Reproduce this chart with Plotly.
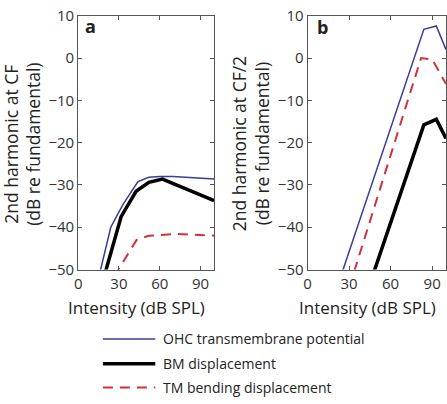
import plotly.graph_objects as go

# ---- data ----
intensity_ticks = [0, 30, 60, 90]
level_ticks = [-50, -40, -30, -20, -10, 0, 10]

series_names = ["OHC transmembrane potential", "BM displacement", "TM bending displacement"]

# panel a: 2nd harmonic at CF
a_ohc_x = [12, 24, 33, 44, 52, 60, 70, 80, 90, 100]
a_ohc_y = [-56, -40, -34.6, -29.2, -28.2, -28.0, -28.0, -28.2, -28.4, -28.6]
a_bm_x = [15, 31.6, 42.6, 52, 62, 72, 100]
a_bm_y = [-56.3, -37.5, -31.5, -29.4, -28.6, -29.9, -33.7]
a_tm_x = [20, 43, 52, 72, 100]
a_tm_y = [-55.1, -43.0, -42.0, -41.6, -42.0]

# panel b: 2nd harmonic at CF/2
b_ohc_x = [20, 84, 93, 100]
b_ohc_y = [-55.5, 6.8, 7.6, 2.0]
b_bm_x = [45, 84, 93, 100]
b_bm_y = [-53.4, -15.8, -14.5, -19.0]
b_tm_x = [30, 82, 90, 100]
b_tm_y = [-54.3, 0.0, -0.3, -6.1]

# ---- styles ----
FONT = "Open Sans"
colors = ["#3b3b9e", "#000000", "#d2303f"]
widths = [1.5, 3.5, 2]
dashes = ["solid", "solid", "10px,7px"]

W, H = 447, 404
ya_dom = [1 - 272 / H, 1 - 5 / H]
xa_dom = [75 / W, 212.5 / W]
xb_dom = [307 / W, 1.0]

fig = go.Figure()
panels = [
    ("x", "y", [(a_ohc_x, a_ohc_y), (a_bm_x, a_bm_y), (a_tm_x, a_tm_y)]),
    ("x2", "y2", [(b_ohc_x, b_ohc_y), (b_bm_x, b_bm_y), (b_tm_x, b_tm_y)]),
]
for xa, ya, data in panels:
    for i, (xs, ys) in enumerate(data):
        fig.add_trace(go.Scatter(
            x=xs, y=ys, mode="lines", name=series_names[i], showlegend=False,
            line=dict(color=colors[i], width=widths[i], dash=dashes[i]),
            xaxis=xa, yaxis=ya, cliponaxis=True,
        ))

axis_common = dict(
    showline=True, linecolor="#555", linewidth=1, mirror="ticks",
    ticks="inside", ticklen=4, tickcolor="#555", showgrid=False, zeroline=False,
    ticklabeloverflow="allow",
    tickfont=dict(family=FONT, size=15, color="#333"),
)
fig.update_layout(
    width=W, height=H, margin=dict(l=0, r=0, t=0, b=0),
    paper_bgcolor="white", plot_bgcolor="white", showlegend=False,
    xaxis=dict(domain=xa_dom, range=[0, 100], tickvals=intensity_ticks, anchor="y", **axis_common),
    yaxis=dict(domain=ya_dom, range=[-50, 10], tickvals=level_ticks, anchor="x", **axis_common),
    xaxis2=dict(domain=xb_dom, range=[0, 100], tickvals=intensity_ticks, anchor="y2", **axis_common),
    yaxis2=dict(domain=ya_dom, range=[-50, 10], tickvals=level_ticks, anchor="x2", **axis_common),
)

def ann(text, x, y, size=16, angle=0, bold=False, xanchor="center"):
    fig.add_annotation(
        text=f"<b>{text}</b>" if bold else text, x=x / W, y=1 - y / H,
        xref="paper", yref="paper", showarrow=False, textangle=angle,
        font=dict(family=FONT, size=size, color="#222"), xanchor=xanchor, yanchor="middle",
    )

# axis titles
ann("Intensity (dB SPL)", 134, 312, size=17)
ann("Intensity (dB SPL)", 367.5, 312, size=17)
ann("2nd harmonic at CF<br>(dB re fundamental)", 18, 140, size=17.5, angle=-90)
ann("2nd harmonic at CF/2<br>(dB re fundamental)", 249, 140, size=17.5, angle=-90)
# panel labels
ann("a", 87, 16, size=18, bold=True)
ann("b", 322, 17, size=18, bold=True)

# legend (drawn below the panels)
leg_y = [345, 371, 396]
for i, name in enumerate(series_names):
    fig.add_shape(type="line", xref="paper", yref="paper",
                  x0=100 / W, x1=153 / W, y0=1 - leg_y[i] / H, y1=1 - leg_y[i] / H,
                  line=dict(color=colors[i], width=widths[i], dash=dashes[i]))
    ann(name, 159, leg_y[i], size=14, xanchor="left")

fig.write_html(
    "out.html",
    config={"displayModeBar": False},
    post_script="document.body.style.margin='0';document.body.style.overflow='hidden';",
)
